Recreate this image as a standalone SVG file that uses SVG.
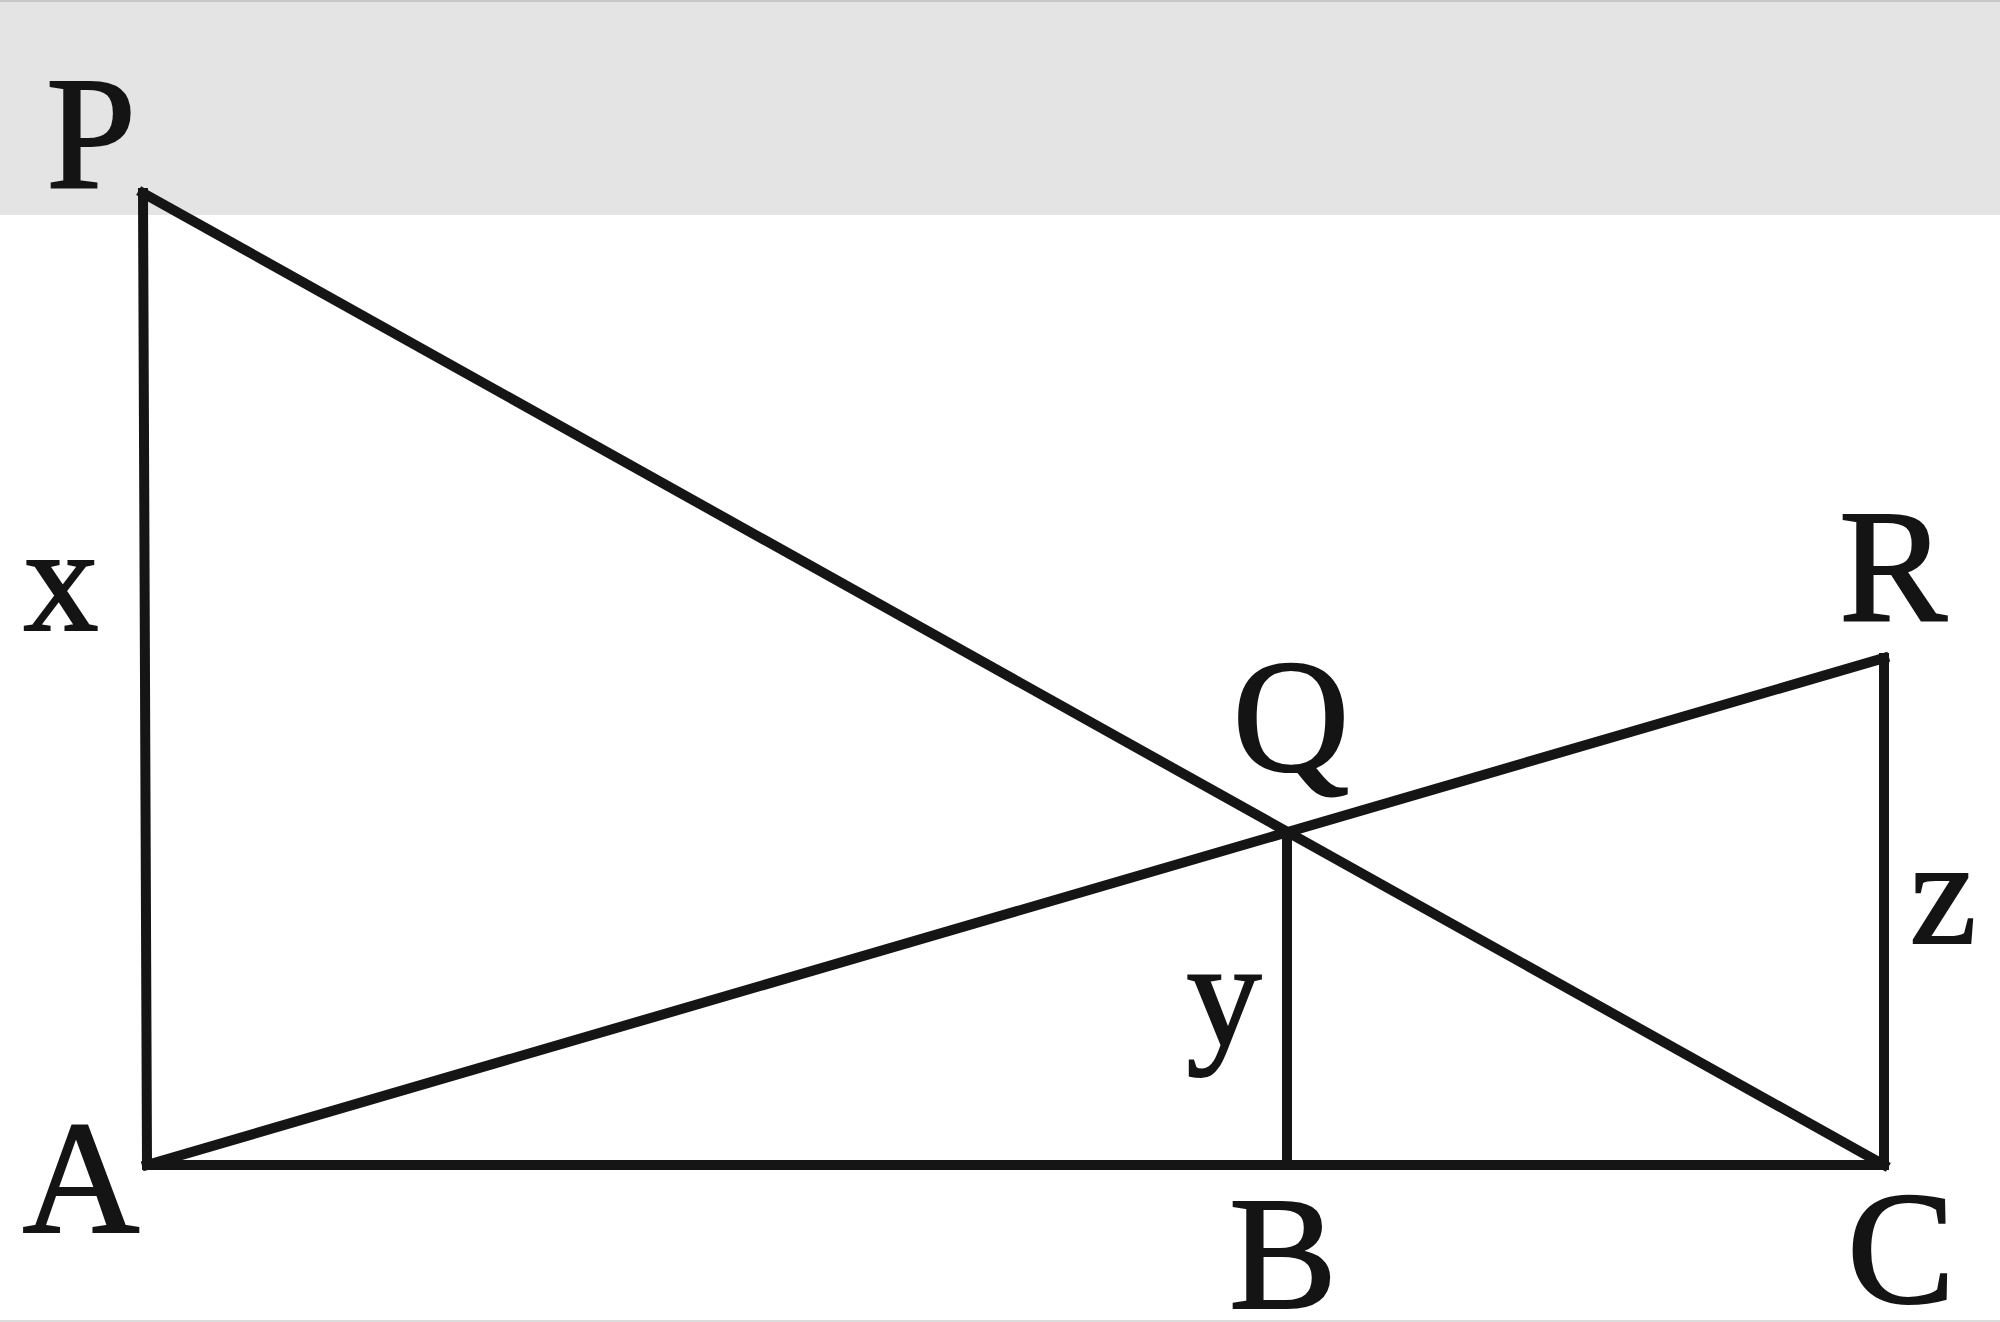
<svg xmlns="http://www.w3.org/2000/svg" width="2000" height="1322" viewBox="0 0 2000 1322">
  <style>
    .seg { stroke: #151515; stroke-width: 10; fill: none; stroke-linecap: square; stroke-linejoin: miter; }
    .lbl { font-family: "Liberation Serif", "Times New Roman", serif; font-size: 162px; fill: #141414; stroke: #141414; stroke-width: 2; text-anchor: middle; }
    .var { font-family: "Liberation Serif", "Times New Roman", serif; font-size: 150px; fill: #141414; stroke: #141414; stroke-width: 2; text-anchor: middle; }
  </style>
  <rect x="0" y="0" width="2000" height="1322" fill="#ffffff"/>
  <rect x="0" y="0" width="2000" height="215" fill="#e4e4e4"/>
  <line x1="0" y1="1" x2="2000" y2="1" stroke="#c8c8c8" stroke-width="2"/>
  <line x1="0" y1="1321" x2="2000" y2="1321" stroke="#dcdcdc" stroke-width="2"/>

  <g id="connectors">
    <line class="seg" x1="143" y1="193" x2="147" y2="1165"/>
    <line class="seg" x1="147" y1="1165" x2="1884" y2="1165"/>
    <line class="seg" x1="143" y1="193" x2="1884" y2="1165"/>
    <line class="seg" x1="147" y1="1165" x2="1884" y2="658"/>
    <line class="seg" x1="1884" y1="658" x2="1884" y2="1165"/>
    <line class="seg" x1="1287" y1="832" x2="1287" y2="1165"/>
  </g>

  <g id="node-P"><text class="lbl" x="91" y="187">P</text></g>
  <g id="node-A"><text class="lbl" x="81" y="1232">A</text></g>
  <g id="node-Q"><text class="lbl" x="1291" y="770">Q</text></g>
  <g id="node-R"><text class="lbl" x="1893" y="620">R</text></g>
  <g id="node-B"><text class="lbl" x="1283" y="1308">B</text></g>
  <g id="node-C"><text class="lbl" x="1901" y="1302">C</text></g>
  <g id="label-x"><text class="var" x="61" y="630">x</text></g>
  <g id="label-y"><text class="var" x="1224" y="1045">y</text></g>
  <g id="label-z"><text class="var" x="1943" y="943">z</text></g>
</svg>
